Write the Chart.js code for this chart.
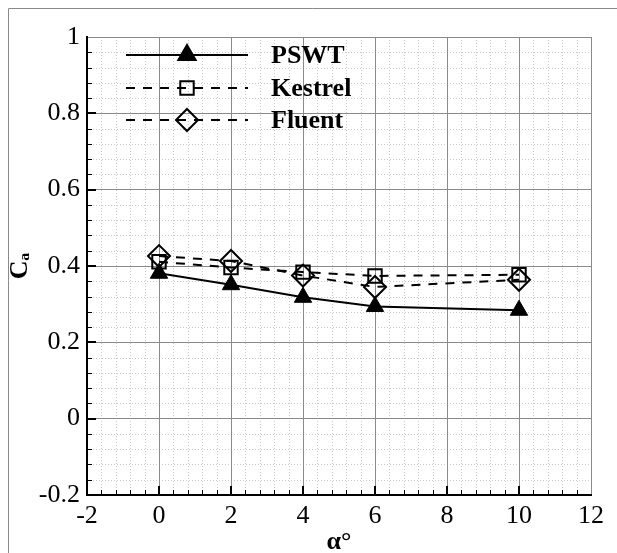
<!doctype html>
<html lang="en">
<head>
<meta charset="utf-8" />
<title>Ca vs alpha</title>
<script src="https://cdn.jsdelivr.net/npm/chart.js@4.4.3/dist/chart.umd.min.js"></script>
<style>
  html, body { margin: 0; padding: 0; background: #fff; }
  #wrap { position: relative; width: 617px; height: 553px; }
</style>
</head>
<body>
<div id="wrap"><canvas id="chart"></canvas></div>
<script>
const alpha = [0, 2, 4, 6, 10];
const pswt = [0.381, 0.351, 0.318, 0.294, 0.284];
const kestrel = [0.411, 0.396, 0.384, 0.374, 0.377];
const fluent = [0.426, 0.413, 0.375, 0.345, 0.364];
const seriesNames = ["PSWT", "Kestrel", "Fluent"];

const serif = "'Liberation Serif', 'Times New Roman', serif";
Chart.defaults.font.family = serif;
Chart.defaults.color = "#000";
const toPts = (ys) => alpha.map((x, i) => ({ x, y: ys[i] }));

// minor grid, inward ticks, frame and legend
const decor = {
  id: "decor",
  beforeDraw(chart) {
    const { ctx, chartArea: a, scales: { x, y } } = chart;
    ctx.save();
    ctx.strokeStyle = "#8a8a8a";
    ctx.lineWidth = 1;
    ctx.beginPath();
    ctx.moveTo(8.5, 553);
    ctx.lineTo(8.5, 8.5);
    ctx.lineTo(617, 8.5);
    ctx.stroke();

    ctx.strokeStyle = "#c8c8c8";
    ctx.setLineDash([1, 2]);
    ctx.beginPath();
    for (let i = 1; i < 35; i++) {
      if (i % 5 === 0) continue;
      const px = Math.round(x.getPixelForValue(-2 + i * 0.4)) + 0.5;
      ctx.moveTo(px, a.top);
      ctx.lineTo(px, a.bottom);
    }
    for (let i = 1; i < 30; i++) {
      if (i % 5 === 0) continue;
      const py = Math.round(y.getPixelForValue(-0.2 + i * 0.04)) + 0.5;
      ctx.moveTo(a.left, py);
      ctx.lineTo(a.right, py);
    }
    ctx.stroke();
    ctx.restore();
  },
  afterDraw(chart) {
    const { ctx, chartArea: a, scales: { x, y } } = chart;
    ctx.save();
    ctx.strokeStyle = "#000";
    for (let i = 1; i < 35; i++) {
      const major = i % 5 === 0;
      const px = Math.round(x.getPixelForValue(-2 + i * 0.4)) + (major ? 0 : 0.5);
      ctx.lineWidth = major ? 2 : 1;
      ctx.beginPath();
      ctx.moveTo(px, a.bottom);
      ctx.lineTo(px, a.bottom - (major ? 9 : 5));
      ctx.stroke();
    }
    for (let i = 1; i < 30; i++) {
      const major = i % 5 === 0;
      const py = Math.round(y.getPixelForValue(-0.2 + i * 0.04)) + (major ? 0 : 0.5);
      ctx.lineWidth = major ? 2 : 1;
      ctx.beginPath();
      ctx.moveTo(a.left, py);
      ctx.lineTo(a.left + (major ? 9 : 5), py);
      ctx.stroke();
    }

    // legend
    const rows = [55, 88, 120];
    ctx.font = "bold 26px " + serif;
    ctx.textBaseline = "middle";
    ctx.fillStyle = "#000";
    rows.forEach((ry, i) => {
      ctx.lineWidth = 2;
      ctx.setLineDash(i === 0 ? [] : [9, 8]);
      ctx.beginPath();
      ctx.moveTo(126, ry);
      ctx.lineTo(248, ry);
      ctx.stroke();
      ctx.setLineDash([]);
      const cx = 187;
      ctx.beginPath();
      if (i === 0) {
        const r = 10;
        ctx.moveTo(cx, ry - r);
        ctx.lineTo(cx + r * 0.866, ry + r / 2);
        ctx.lineTo(cx - r * 0.866, ry + r / 2);
        ctx.closePath();
        ctx.fill();
      } else if (i === 1) {
        const s = 9.5 * Math.SQRT1_2;
        ctx.rect(cx - s, ry - s, 2 * s, 2 * s);
      } else {
        const r = 11;
        ctx.moveTo(cx, ry - r);
        ctx.lineTo(cx + r, ry);
        ctx.lineTo(cx, ry + r);
        ctx.lineTo(cx - r, ry);
        ctx.closePath();
      }
      ctx.stroke();
      ctx.fillText(seriesNames[i], 271, ry + 1);
    });
    ctx.restore();
  },
};

new Chart(document.getElementById("chart"), {
  type: "line",
  data: {
    datasets: [
      {
        label: seriesNames[0],
        data: toPts(pswt),
        borderColor: "#000",
        borderWidth: 2,
        pointStyle: "triangle",
        pointRadius: 10,
        pointBackgroundColor: "#000",
        pointBorderColor: "#000",
        pointBorderWidth: 1,
      },
      {
        label: seriesNames[1],
        data: toPts(kestrel),
        borderColor: "#000",
        borderWidth: 2,
        borderDash: [9, 8],
        pointStyle: "rect",
        pointRadius: 9.5,
        pointBackgroundColor: "rgba(0,0,0,0)",
        pointBorderColor: "#000",
        pointBorderWidth: 2,
      },
      {
        label: seriesNames[2],
        data: toPts(fluent),
        borderColor: "#000",
        borderWidth: 2,
        borderDash: [9, 8],
        pointStyle: "rectRot",
        pointRadius: 11,
        pointBackgroundColor: "rgba(0,0,0,0)",
        pointBorderColor: "#000",
        pointBorderWidth: 2,
      },
    ],
  },
  options: {
    responsive: true,
    maintainAspectRatio: false,
    animation: false,
    layout: { padding: { top: 37, right: 26, left: 0, bottom: 0 } },
    plugins: { legend: { display: false }, tooltip: { enabled: false } },
    elements: { line: { tension: 0 } },
    scales: {
      x: {
        type: "linear",
        min: -2,
        max: 12,
        afterFit: (s) => { s.height = 58; },
        ticks: {
          stepSize: 2,
          padding: 8,
          color: "#000",
          font: { family: serif, size: 26, lineHeight: 1 },
        },
        grid: { color: "#8a8a8a", lineWidth: 1, drawTicks: false },
        border: { color: "#000", width: 2 },
        title: {
          display: true,
          text: "α°",
          color: "#000",
          font: { family: serif, size: 26, weight: "bold", lineHeight: 0.8 },
          padding: 0,
        },
      },
      y: {
        type: "linear",
        min: -0.2,
        max: 1,
        afterFit: (s) => { s.width = 87; },
        ticks: {
          stepSize: 0.2,
          padding: 7,
          color: "#000",
          font: { family: serif, size: 26, lineHeight: 1 },
          callback: (v) => String(parseFloat(Number(v).toFixed(1))),
        },
        grid: { color: "#8a8a8a", lineWidth: 1, drawTicks: false },
        border: { color: "#000", width: 2 },
        title: {
          display: true,
          text: "Cₐ",
          color: "#000",
          font: { family: serif, size: 26, weight: "bold", lineHeight: 1 },
          padding: { top: 7, bottom: 0 },
        },
      },
    },
  },
  plugins: [decor],
});
</script>
</body>
</html>
